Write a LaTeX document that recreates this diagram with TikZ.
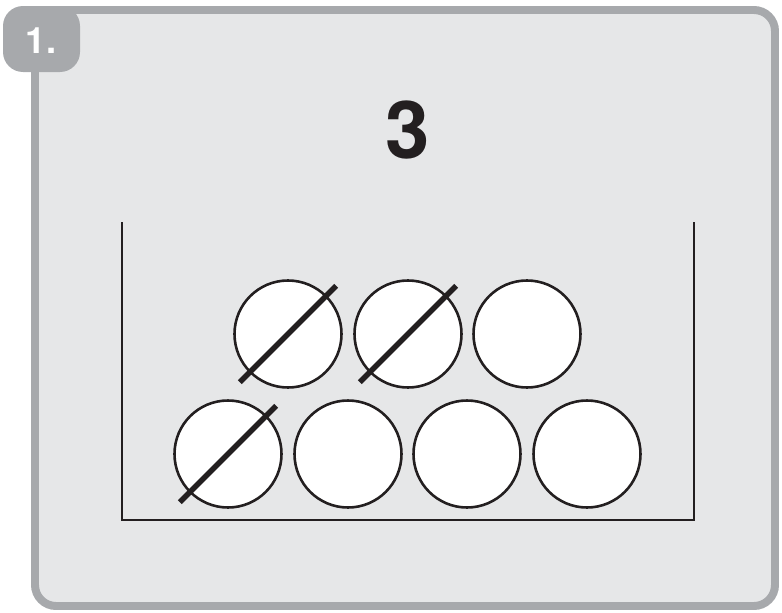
\documentclass[tikz,border=0pt]{standalone}
\usepackage{fontspec}
\setmainfont{TeX Gyre Heros}
\usepackage{xcolor}
\usepackage{tikz}
\definecolor{framegray}{HTML}{A7A9AC}
\definecolor{panelgray}{HTML}{E6E7E8}
\definecolor{inkblack}{HTML}{231F20}

\begin{document}
\begin{tikzpicture}[x=0.03cm, y=-0.03cm,
    ball/.style={circle, draw=inkblack, fill=white, line width=2.2pt, minimum size=3.21cm, inner sep=0pt},
    slash/.style={draw=inkblack, line width=4.6pt, shorten <=-0.4cm, shorten >=-0.4cm}]
        \useasboundingbox (0,0) rectangle (782,612);
        % panel and tab
        \draw[draw=framegray, fill=panelgray, line width=6.8pt, rounded corners=0.63cm] (35,10) rectangle (775,606);
        \fill[framegray, rounded corners=0.6cm] (3,6) rectangle (80,72);
        \node[text=white, font=\bfseries\fontsize{31}{31}\selectfont] (num) at (41,41) {1.};
        \node[text=inkblack, font=\bfseries\fontsize{68}{68}\selectfont] (count) at (408,130) {3};
        % box
        \draw[inkblack, line width=2.4pt] (122,222) -- (122,520) -- (694,520) -- (694,222);
        % balls
        \node[ball] (b1) at (288,334) {};
        \node[ball] (b2) at (408,334) {};
        \node[ball] (b3) at (527,334) {};
        \node[ball] (b4) at (228,454) {};
        \node[ball] (b5) at (348,454) {};
        \node[ball] (b6) at (467,454) {};
        \node[ball] (b7) at (587,454) {};
        \draw[slash] (b1.225) -- (b1.45);
        \draw[slash] (b2.225) -- (b2.45);
        \draw[slash] (b4.225) -- (b4.45);
    \end{tikzpicture}
\end{document}
